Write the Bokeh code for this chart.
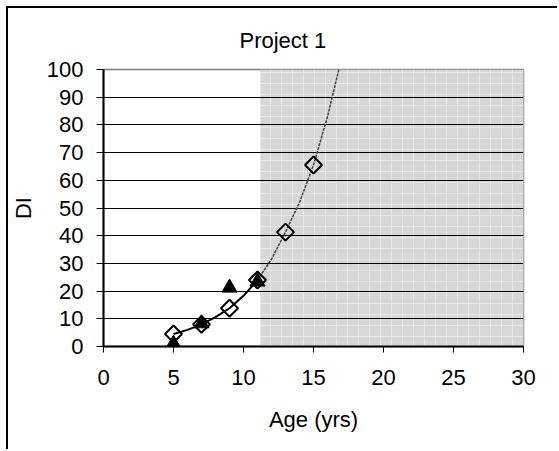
import math
from bokeh.plotting import figure
from bokeh.models import Range1d, FixedTicker
from bokeh.embed import file_html
from bokeh.resources import INLINE

# Data
measured_age = [5, 7, 9, 11, 13, 15]
measured_di = [4.5, 8.0, 13.8, 24.0, 41.3, 65.5]

observed_age = [5, 7, 9, 11]
observed_di = [1.0, 8.3, 21.2, 23.4]

fit_age_solid = [5, 6, 7, 8, 9, 10, 11]
fit_di_solid = [4.5, 6.0, 8.0, 10.6, 13.8, 18.3, 24.0]
fit_age_proj = [11, 12, 13, 14, 15, 16, 17]
fit_di_proj = [24.0, 31.5, 41.3, 52.0, 65.5, 83.0, 104.0]

shade_left = [11.2]
shade_right = [30]
shade_bottom = [0]
shade_top = [100]

x_ticks = [0, 5, 10, 15, 20, 25, 30]
y_ticks = [0, 10, 20, 30, 40, 50, 60, 70, 80, 90, 100]

FONT = "Liberation Sans"

p = figure(width=557, height=449, output_backend="svg", toolbar_location=None,
           x_range=Range1d(0, 30), y_range=Range1d(0, 100),
           min_border_left=103, min_border_right=34, min_border_top=69,
           min_border_bottom=103)
# outer chart frame (top and left edges) drawn behind a transparent border area
p.styles = {
    "background-image": "linear-gradient(#000, #000), linear-gradient(#000, #000)",
    "background-size": "100% 2px, 2px 100%",
    "background-position": "6px 6px, 6px 6px",
    "background-repeat": "no-repeat",
}

p.title.text = "Project 1"
p.title.align = "left"
p.title.vertical_align = "top"
p.title.offset = 136
p.title.text_font = FONT
p.title.text_font_size = "22px"
p.title.text_font_style = "normal"
p.title.text_color = "black"
p.title.standoff = 30

p.background_fill_color = "white"
p.border_fill_alpha = 0
p.outline_line_color = "#808080"
p.outline_line_width = 1.5

# Shaded projection region
p.quad(left=shade_left, right=shade_right, bottom=shade_bottom, top=shade_top,
       fill_color="#d7d7d7", line_color=None,
       hatch_pattern="+", hatch_color="#e6e6e6", hatch_scale=11, hatch_weight=1,
       level="image")

p.xgrid.visible = False
p.ygrid.ticker = FixedTicker(ticks=y_ticks)
p.ygrid.grid_line_color = "black"
p.ygrid.grid_line_width = 1

for ax in (p.xaxis[0], p.yaxis[0]):
    ax.axis_line_color = "black"
    ax.axis_line_width = 2
    ax.major_tick_line_color = "black"
    ax.major_tick_line_width = 1
    ax.minor_tick_line_color = None
    ax.major_tick_in = 0
    ax.major_label_text_font = FONT
    ax.major_label_text_font_size = "22px"
    ax.major_label_text_color = "black"
    ax.axis_label_text_font = FONT
    ax.axis_label_text_font_size = "22px"
    ax.axis_label_text_font_style = "normal"
    ax.axis_label_text_color = "black"

p.xaxis.ticker = FixedTicker(ticks=x_ticks)
p.yaxis.ticker = FixedTicker(ticks=y_ticks)
p.xaxis.major_tick_out = 6
p.yaxis.major_tick_out = 7
p.xaxis.major_label_standoff = 17
p.yaxis.major_label_standoff = 13
p.xaxis.axis_label = "Age (yrs)"
p.yaxis.axis_label = "DI"
p.xaxis.axis_label_standoff = 19
p.yaxis.axis_label_standoff = 8

# Fitted curve
p.line(fit_age_solid, fit_di_solid, line_color="black", line_width=2)
p.line(fit_age_proj, fit_di_proj, line_color="#404040", line_width=1.5, line_dash="3 1")

# Markers
p.scatter(measured_age, measured_di, marker="square", angle=math.pi / 4, size=12,
          fill_alpha=0, line_color="black", line_width=2)
p.scatter(observed_age, observed_di, marker="triangle", size=15,
          fill_color="black", line_color="black")

open("out.html", "w").write(file_html(p, INLINE))
